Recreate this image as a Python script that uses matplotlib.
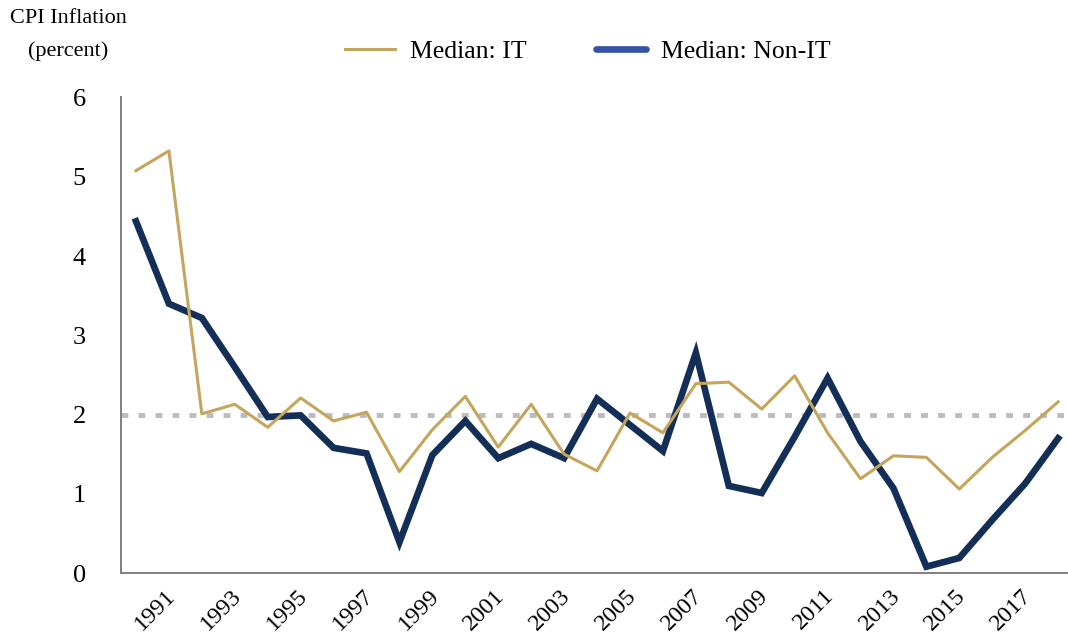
import matplotlib
matplotlib.use("Agg")
import matplotlib.pyplot as plt
import matplotlib.transforms as mtransforms
from matplotlib.lines import Line2D

plt.rcParams['font.family'] = ['Liberation Serif', 'DejaVu Serif']

years = list(range(1990, 2019))
median_it = [5.08, 5.33, 2.01, 2.13, 1.84, 2.21, 1.92, 2.03, 1.28, 1.81,
             2.23, 1.59, 2.13, 1.50, 1.29, 2.02, 1.77, 2.39, 2.41, 2.07,
             2.49, 1.77, 1.19, 1.48, 1.46, 1.06, 1.46, 1.80, 2.16]
median_non_it = [4.44, 3.40, 3.22, 2.60, 1.97, 1.99, 1.58, 1.51, 0.39, 1.49,
                 1.92, 1.45, 1.63, 1.45, 2.20, 1.87, 1.54, 2.78, 1.10, 1.01,
                 1.72, 2.46, 1.66, 1.07, 0.08, 0.19, 0.67, 1.13, 1.70]
tick_years = list(range(1991, 2018, 2))
target = 2.0

gold = "#C4A55C"
navy = "#142F57"
legend_blue = "#3653A6"

fig = plt.figure(figsize=(10.68, 6.35), dpi=100)
ax = fig.add_axes([121/1068, 62/635, 1 - 121/1068, 476/635])

ax.axhline(target, color="#BBBBC0", lw=3.5, linestyle=(0, (1.4, 2.1)), zorder=1)
ax.plot(years, median_it, color=gold, lw=2.2, zorder=3)
ax.plot(years, median_non_it, color=navy, lw=4.8, solid_joinstyle='miter', zorder=2)

ax.set_xlim(1989.545, 2018.30)
ax.set_ylim(0, 6.01)
ax.set_yticks(range(0, 7))
ax.set_xticks(tick_years)
ax.set_xticklabels([str(y) for y in tick_years], rotation=45, ha='right',
                   rotation_mode='anchor', fontsize=17.5)
ax.tick_params(axis='x', length=0, pad=9)
ax.tick_params(axis='y', length=0, pad=30, labelsize=19)
for lab in ax.get_yticklabels():
    lab.set_horizontalalignment('center')

shift = mtransforms.ScaledTranslation(-4/100, 0, fig.dpi_scale_trans)
for lab in ax.get_xticklabels():
    lab.set_transform(lab.get_transform() + shift)

for s in ['top', 'right']:
    ax.spines[s].set_visible(False)
for s in ['left', 'bottom']:
    ax.spines[s].set_color("#808080")
    ax.spines[s].set_linewidth(1.4)

fig.text(68/1068, 1 - 35/635, "CPI Inflation\n(percent)", ha='center', va='center',
         fontsize=16, linespacing=1.85)

handles = [Line2D([], [], color=gold, lw=2.2),
           Line2D([], [], color=legend_blue, lw=4.8, solid_capstyle='round')]
fig.legend(handles, ["Median: IT", "Median: Non-IT"], loc='center left',
           bbox_to_anchor=(345/1068, 1 - 52/635), ncol=2, frameon=False,
           fontsize=18.5, handlelength=1.95, handletextpad=0.58, columnspacing=2.7,
           borderpad=0, borderaxespad=0)

fig.savefig("out.png", dpi=100)
